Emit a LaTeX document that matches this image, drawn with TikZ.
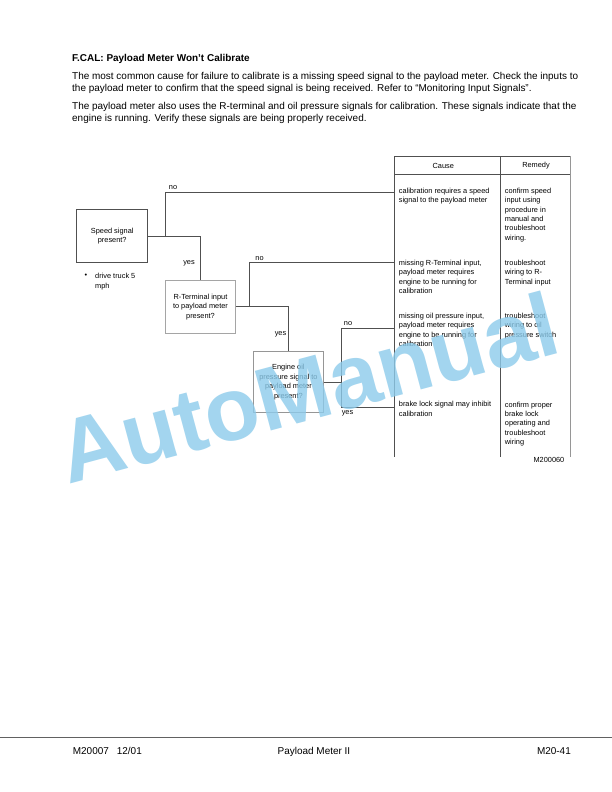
\documentclass[tikz,border=0pt]{standalone}
\usepackage{fontspec}
\setmainfont{Liberation Sans}
\definecolor{ln}{RGB}{80,80,80}
\definecolor{lnlight}{RGB}{165,165,165}
\definecolor{lnmid}{RGB}{150,150,150}
\definecolor{wmblue}{RGB}{140,203,235}
\begin{document}
\begin{tikzpicture}[x=1bp,y=-1bp,
  body/.style={inner sep=0pt, anchor=base west, align=left, font=\fontsize{10}{12}\selectfont},
  small/.style={inner sep=0pt, anchor=base west, align=left, font=\fontsize{7.4}{9.4}\selectfont},
  lab/.style={inner sep=0pt, font=\fontsize{7.4}{9.4}\selectfont},
  qbox/.style={draw, line width=0.8bp, align=center, inner sep=0pt, font=\fontsize{7.4}{9.4}\selectfont},
  conn/.style={draw=ln, line width=0.9bp},
  tline/.style={draw=ln, line width=0.9bp}]
\useasboundingbox (0,0) rectangle (612,792);
\fill[white] (0,0) rectangle (612,792);

% header text (multi-line nodes: base = baseline of last line)
\node[body, font=\bfseries\fontsize{10}{12}\selectfont] (title) at (72,61.3) {F.CAL: Payload Meter Won't Calibrate};
\node[body] (p1) at (72,91.3) {The most common cause for failure to calibrate is a missing speed signal to the payload meter. Check the inputs to\\the payload meter to confirm that the speed signal is being received. Refer to “Monitoring Input Signals”.};
\node[body] (p2) at (72,121.3) {The payload meter also uses the R-terminal and oil pressure signals for calibration. These signals indicate that the\\engine is running. Verify these signals are being properly received.};

% question boxes
\node[qbox, draw=ln, minimum width=71bp, minimum height=53.4bp] (speed) at (112.2,236) {Speed signal\\present?};
\node[qbox, draw=lnlight, minimum width=70.4bp, minimum height=52.3bp] (rterm) at (200.5,306.9) {R-Terminal input\\to payload meter\\present?};
\node[qbox, draw=lnmid, minimum width=70.2bp, minimum height=61.2bp] (engine) at (288.4,382.1) {Engine oil\\pressure signal to\\payload meter\\present?};

\node[lab] (bul) at (86,276) {•};
\node[small] (drive) at (95,288) {drive truck 5\\mph};

% table
\coordinate (tA) at (394.7,156);
\coordinate (tB) at (500.3,156);
\coordinate (tC) at (570.5,156);
\coordinate (hA) at (394.7,174.5);
\coordinate (hC) at (570.5,174.5);
\coordinate (bA) at (394.7,457);
\coordinate (bB) at (500.3,457);
\coordinate (bC) at (570.5,457);
\draw[tline] (tA) -- (tC);
\draw[tline] (hA) -- (hC);
\draw[tline] (tA) -- (bA);
\draw[tline] (tB) -- (bB);
\draw[draw=lnmid, line width=0.9bp] (tC) -- (bC);

\node[lab] (hcause) at (443.3,165.5) {Cause};
\node[lab] (hremedy) at (536,165.5) {Remedy};

\node[small] (c1) at (398.7,202.6) {calibration requires a speed\\signal to the payload meter};
\node[small] (r1) at (504.7,240.2) {confirm speed\\input using\\procedure in\\manual and\\troubleshoot\\wiring.};
\node[small] (c2) at (398.7,293.4) {missing R-Terminal input,\\payload meter requires\\engine to be running for\\calibration};
\node[small] (r2) at (504.7,284) {troubleshoot\\wiring to R-\\Terminal input};
\node[small] (c3) at (398.7,346.5) {missing oil pressure input,\\payload meter requires\\engine to be running for\\calibration};
\node[small] (r3) at (504.7,337.1) {troubleshoot\\wiring to oil\\pressure switch};
\node[small] (c4) at (398.7,416.3) {brake lock signal may inhibit\\calibration};
\node[small] (r4) at (504.7,444.5) {confirm proper\\brake lock\\operating and\\troubleshoot\\wiring};
\node[small, anchor=base east] (fig) at (564.5,462.6) {M200060};

% connectors
\coordinate (j1) at (165,236);
\coordinate (e1) at (394.7,192.3);
\coordinate (j2) at (249,306.9);
\coordinate (e2) at (394.7,262.7);
\coordinate (j3) at (341.3,382.1);
\coordinate (j3t) at (341.3,328);
\coordinate (j3b) at (341.3,407);
\coordinate (e3) at (394.7,328);
\coordinate (e4) at (394.7,407);

\draw[conn] (speed.east) -| (rterm.north);
\draw[conn] (j1) |- (e1);
\draw[conn] (rterm.east) -| (engine.north);
\draw[conn] (j2) |- (e2);
\draw[conn] (engine.east) -- (j3);
\draw[conn] (e3) -- (j3t) -- (j3b) -- (e4);

\node[lab] (no1) at (173,187.8) {no};
\node[lab] (yes1) at (189,263.5) {yes};
\node[lab] (no2) at (259.5,258.4) {no};
\node[lab] (yes2) at (280.5,334) {yes};
\node[lab] (no3) at (348,323.8) {no};
\node[lab] (yes3) at (347.5,413.5) {yes};

% footer
\draw[draw=ln!90, line width=1.4bp] (0,737.7) -- (612,737.7);
\node[body] (f1) at (72.7,754.5) {M20007\hspace{8bp}12/01};
\node[body, anchor=base] (f2) at (314,754.5) {Payload Meter II};
\node[body, anchor=base east] (f3) at (571,754.5) {M20-41};

% watermark
\node[inner sep=0pt, anchor=base west, rotate=15, text=wmblue, text opacity=0.8,
      font=\bfseries\fontsize{90}{90}\selectfont] (wm) at (68,485) {AutoManual};
\end{tikzpicture}
\end{document}
